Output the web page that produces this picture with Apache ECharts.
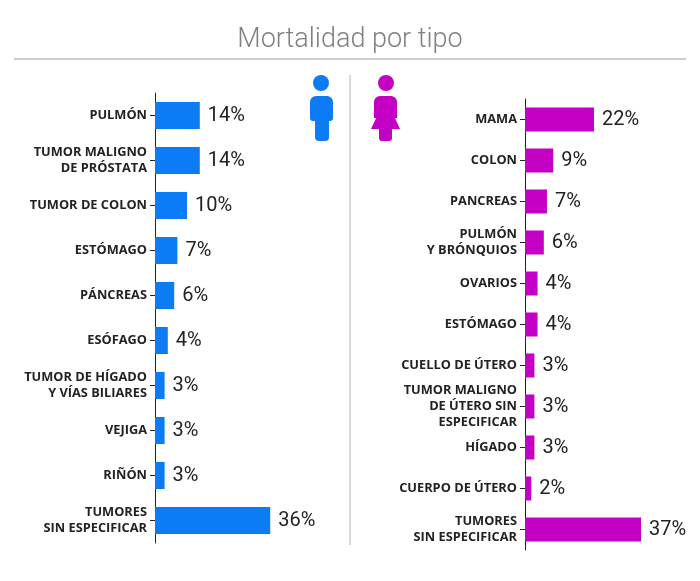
<!doctype html>
<html lang="es">
<head>
	<meta charset="utf-8">
	<title>Mortalidad por tipo</title>
	<script src="https://cdn.jsdelivr.net/npm/echarts@6/dist/echarts.min.js"></script>
	<style>
		html, body { margin: 0; padding: 0; background: #fff; }
		#chart { width: 700px; height: 581px; }
	</style>
</head>
<body>
	<div id="chart"></div>
	<script>
	// hombres
	let maleCats = ['PULMÓN', 'TUMOR MALIGNO\nDE PRÓSTATA', 'TUMOR DE COLON', 'ESTÓMAGO', 'PÁNCREAS',
		'ESÓFAGO', 'TUMOR DE HÍGADO\nY VÍAS BILIARES', 'VEJIGA', 'RIÑÓN', 'TUMORES\nSIN ESPECIFICAR'];
	let maleVals = [14, 14, 10, 7, 6, 4, 3, 3, 3, 36];

	// mujeres
	let femaleCats = ['MAMA', 'COLON', 'PANCREAS', 'PULMÓN\nY BRÓNQUIOS', 'OVARIOS', 'ESTÓMAGO',
		'CUELLO DE ÚTERO', 'TUMOR MALIGNO\nDE ÚTERO SIN\nESPECIFICAR', 'HÍGADO', 'CUERPO DE ÚTERO',
		'TUMORES\nSIN ESPECIFICAR'];
	let femaleVals = [22, 9, 7, 6, 4, 4, 3, 3, 3, 2, 37];

	let blue = '#0b7cf6';
	let magenta = '#c300c3';
	let font = 'Roboto, "Noto Sans", sans-serif';
	let catFont = '"Open Sans", "Noto Sans", sans-serif';

	function yAxisFor(idx, cats) {
		return {
			type: 'category', gridIndex: idx, data: cats, inverse: true,
			axisLine: { lineStyle: { color: '#222', width: 1 } },
			axisTick: { show: true, alignWithLabel: true, length: 5, lineStyle: { color: '#222' } },
			axisLabel: {
				color: '#222', fontFamily: catFont, fontWeight: 'bold', fontSize: 12.8,
				lineHeight: 16, margin: 8, align: 'right'
			}
		};
	}
	function xAxisFor(idx) {
		return {
			type: 'value', gridIndex: idx, min: 0, max: 40, show: false,
			splitLine: { show: false }
		};
	}
	function barsFor(idx, vals, color, w) {
		return {
			type: 'bar', xAxisIndex: idx, yAxisIndex: idx, data: vals, barWidth: w,
			itemStyle: { color: color },
			label: {
				show: true, position: 'right', distance: 8, formatter: '{c}%',
				color: '#222', fontFamily: font, fontSize: 20
			},
			silent: true
		};
	}

	let chart = echarts.init(document.getElementById('chart'));
	let option = {
		animation: false,
		backgroundColor: '#fff',
		title: {
			text: 'Mortalidad por tipo', left: 'center', top: 22,
			textStyle: { color: '#808080', fontFamily: font, fontWeight: 300, fontSize: 27 }
		},
		grid: [
			{ left: 155, top: 93, width: 128, height: 450 },
			{ left: 525, top: 99, width: 125.4, height: 451 }
		],
		xAxis: [xAxisFor(0), xAxisFor(1)],
		yAxis: [yAxisFor(0, maleCats), yAxisFor(1, femaleCats)],
		series: [
			barsFor(0, maleVals, blue, 27),
			barsFor(1, femaleVals, magenta, 24)
		],
		graphic: [
			{ type: 'line', shape: { x1: 14, y1: 59, x2: 686, y2: 59 }, style: { stroke: '#9a9a9a', lineWidth: 1 } },
			{ type: 'line', shape: { x1: 350, y1: 75, x2: 350, y2: 545 }, style: { stroke: '#cccccc', lineWidth: 1.5 } },
			// hombre
			{ type: 'circle', shape: { cx: 321, cy: 83, r: 8 }, style: { fill: blue } },
			{ type: 'rect', shape: { x: 310, y: 96, width: 23, height: 25, r: [6, 6, 3, 3] }, style: { fill: blue } },
			{ type: 'rect', shape: { x: 315, y: 112, width: 14, height: 29, r: [0, 0, 4, 4] }, style: { fill: blue } },
			// mujer
			{ type: 'circle', shape: { cx: 386, cy: 83, r: 8 }, style: { fill: magenta } },
			{ type: 'rect', shape: { x: 374, y: 96, width: 23, height: 22, r: [6, 6, 0, 0] }, style: { fill: magenta } },
			{ type: 'polygon', shape: { points: [[377, 116], [394, 116], [400, 129], [371, 129]] }, style: { fill: magenta } },
			{ type: 'rect', shape: { x: 379, y: 127, width: 13, height: 14, r: [0, 0, 3, 3] }, style: { fill: magenta } }
		]
	};
	chart.setOption(option);
	</script>
</body>
</html>
